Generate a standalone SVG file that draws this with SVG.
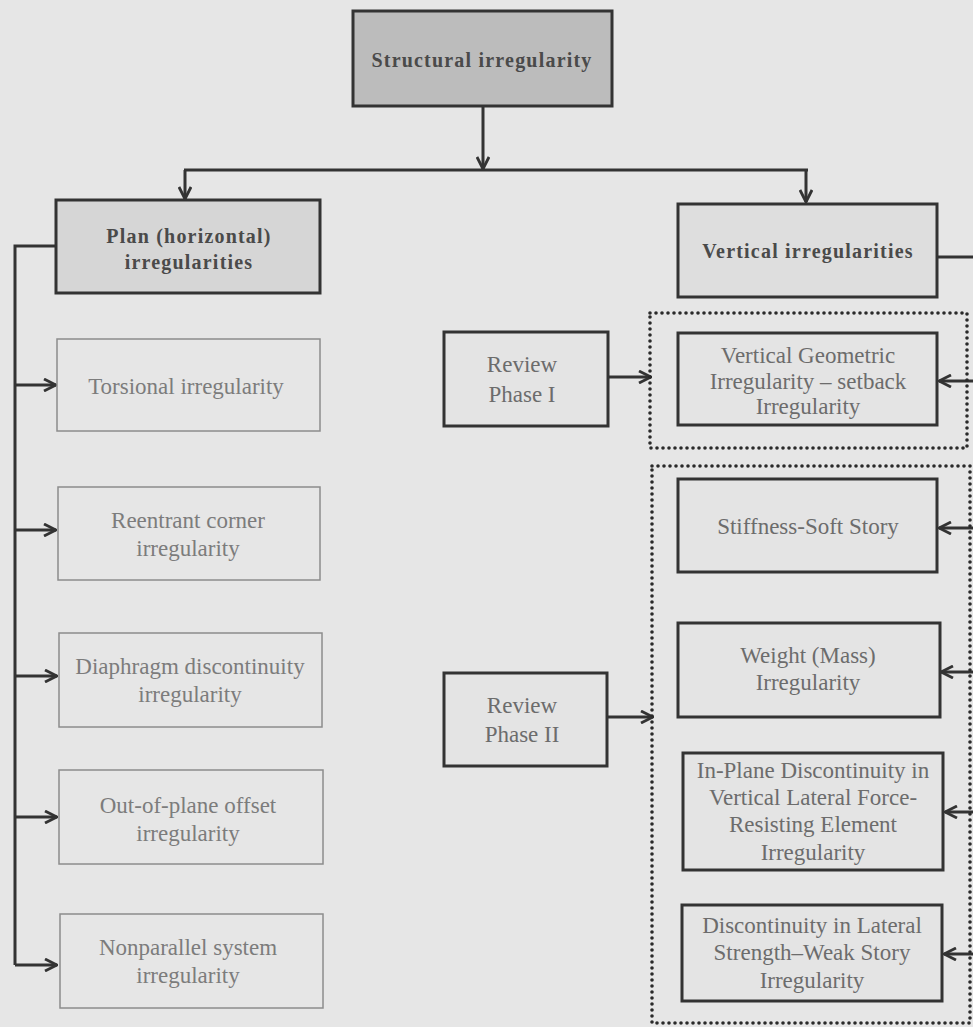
<svg xmlns="http://www.w3.org/2000/svg" width="973" height="1027" viewBox="0 0 973 1027">
<style>
text{font-family:"Liberation Serif","Times New Roman",serif;text-anchor:middle}
.t{font-size:23px;fill:#7c7c7c}
.tr{font-size:23px;fill:#6c6c6c}
.b{font-size:20px;font-weight:bold;fill:#4a4a4a;letter-spacing:1.2px}
.lb{fill:#e6e6e6;stroke:#8c8c8c;stroke-width:1.5}
.rb{fill:#e4e4e4;stroke:#333;stroke-width:3}
.hb{stroke:#333;stroke-width:3}
.c{fill:none;stroke:#333;stroke-width:3}
.dot{fill:none;stroke:#2a2a2a;stroke-width:3.6;stroke-dasharray:0 6;stroke-linecap:round}
</style>
<defs>
<marker id="a" viewBox="0 0 14 14" refX="13" refY="7" markerWidth="14" markerHeight="14" markerUnits="userSpaceOnUse" orient="auto">
<path d="M1,1 L13,7 L1,13" fill="none" stroke="#333" stroke-width="2.8"/>
</marker>
</defs>
<rect width="973" height="1027" fill="#e6e6e6"/>
<g id="connectors">
<path class="c" d="M483,106 V169" marker-end="url(#a)"/>
<path class="c" d="M184,170 H808"/>
<path class="c" d="M185,170 V199" marker-end="url(#a)"/>
<path class="c" d="M806,170 V202" marker-end="url(#a)"/>
<path class="c" d="M55,246 H15 V965"/>
<path class="c" d="M15,385 H56" marker-end="url(#a)"/>
<path class="c" d="M15,530 H56" marker-end="url(#a)"/>
<path class="c" d="M15,676 H57" marker-end="url(#a)"/>
<path class="c" d="M15,817 H57" marker-end="url(#a)"/>
<path class="c" d="M15,965 H57" marker-end="url(#a)"/>
<path class="c" d="M937,257 H980 V954"/>
<path class="c" d="M980,381 H939" marker-end="url(#a)"/>
<path class="c" d="M980,528 H939" marker-end="url(#a)"/>
<path class="c" d="M980,672 H941" marker-end="url(#a)"/>
<path class="c" d="M980,812 H945" marker-end="url(#a)"/>
<path class="c" d="M980,954 H944" marker-end="url(#a)"/>
<path class="c" d="M608,377 H651" marker-end="url(#a)"/>
<path class="c" d="M607,717 H653" marker-end="url(#a)"/>
</g>
<g id="group-phase1"><rect class="dot" x="650" y="313" width="317" height="135"/></g>
<g id="group-phase2"><rect class="dot" x="652" y="466" width="318" height="557"/></g>
<g id="structural"><rect class="hb" x="353" y="11" width="259" height="95" fill="#bcbcbc"/><text class="b" x="482" y="67">Structural irregularity</text></g>
<g id="plan"><rect class="hb" x="56" y="200" width="264" height="93" fill="#d6d6d6"/><text class="b" x="189" y="243">Plan (horizontal)</text><text class="b" x="189" y="269">irregularities</text></g>
<g id="vertical"><rect class="hb" x="678" y="204" width="259" height="93" fill="#dedede"/><text class="b" x="808" y="258">Vertical irregularities</text></g>
<g id="torsional"><rect class="lb" x="57" y="339" width="263" height="92"/><text class="t" x="186" y="394">Torsional irregularity</text></g>
<g id="reentrant"><rect class="lb" x="58" y="487" width="262" height="93"/><text class="t" x="188" y="528">Reentrant corner</text><text class="t" x="188" y="556">irregularity</text></g>
<g id="diaphragm"><rect class="lb" x="59" y="633" width="263" height="94"/><text class="t" x="190" y="674">Diaphragm discontinuity</text><text class="t" x="190" y="702">irregularity</text></g>
<g id="outofplane"><rect class="lb" x="59" y="770" width="264" height="94"/><text class="t" x="188" y="813">Out-of-plane offset</text><text class="t" x="188" y="841">irregularity</text></g>
<g id="nonparallel"><rect class="lb" x="60" y="914" width="263" height="94"/><text class="t" x="188" y="955">Nonparallel system</text><text class="t" x="188" y="983">irregularity</text></g>
<g id="review1"><rect class="rb" x="444" y="332" width="164" height="94"/><text class="tr" x="522" y="372">Review</text><text class="tr" x="522" y="402">Phase I</text></g>
<g id="review2"><rect class="rb" x="444" y="673" width="163" height="93"/><text class="tr" x="522" y="713">Review</text><text class="tr" x="522" y="742">Phase II</text></g>
<g id="setback"><rect class="rb" x="678" y="333" width="259" height="92"/><text class="tr" x="808" y="363">Vertical Geometric</text><text class="tr" x="808" y="389">Irregularity – setback</text><text class="tr" x="808" y="414">Irregularity</text></g>
<g id="stiffness"><rect class="rb" x="678" y="479" width="259" height="93"/><text class="tr" x="808" y="534">Stiffness-Soft Story</text></g>
<g id="weight"><rect class="rb" x="678" y="623" width="262" height="94"/><text class="tr" x="808" y="663">Weight (Mass)</text><text class="tr" x="808" y="690">Irregularity</text></g>
<g id="inplane"><rect class="rb" x="683" y="753" width="260" height="117"/><text class="tr" x="813" y="778">In-Plane Discontinuity in</text><text class="tr" x="813" y="805">Vertical Lateral Force-</text><text class="tr" x="813" y="832">Resisting Element</text><text class="tr" x="813" y="860">Irregularity</text></g>
<g id="weakstory"><rect class="rb" x="682" y="905" width="260" height="96"/><text class="tr" x="812" y="933">Discontinuity in Lateral</text><text class="tr" x="812" y="960">Strength–Weak Story</text><text class="tr" x="812" y="988">Irregularity</text></g>
</svg>
